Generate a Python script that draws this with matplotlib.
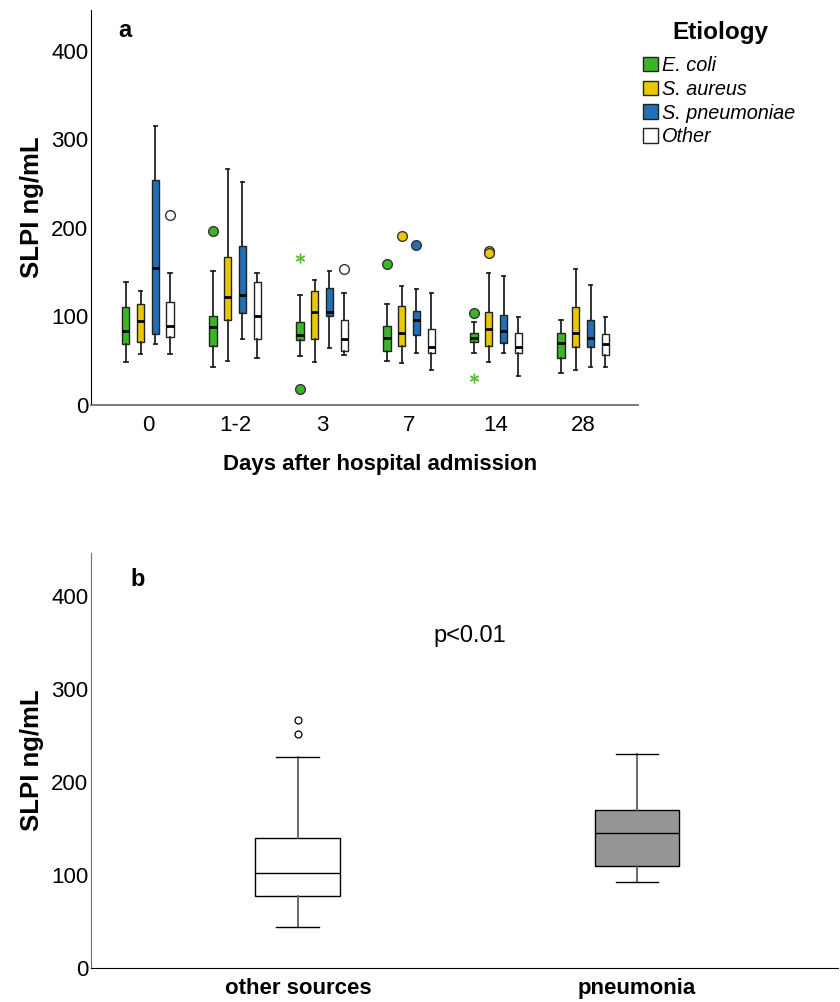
import numpy as np
import matplotlib.pyplot as plt
from matplotlib.patches import Patch

plt.rcParams['font.family'] = ['Liberation Sans', 'DejaVu Sans']

# panel a: SLPI by etiology and day
days = ["0", "1-2", "3", "7", "14", "28"]
etiologies = ["E. coli", "S. aureus", "S. pneumoniae", "Other"]
colors = ["#3bb526", "#e9c800", "#216fb4", "#ffffff"]

# (whisker low, q1, median, q3, whisker high) per day
ecoli = [(49, 69, 84, 111, 139), (43, 67, 88, 100, 151), (55, 73, 79, 94, 124),
         (50, 61, 76, 89, 114), (59, 71, 76, 81, 94), (36, 53, 70, 81, 96)]
saureus = [(58, 71, 95, 114, 129), (50, 96, 122, 167, 267), (49, 75, 105, 129, 141),
           (47, 67, 81, 112, 134), (49, 67, 86, 105, 149), (40, 66, 81, 111, 154)]
spneumo = [(69, 80, 155, 254, 315), (75, 104, 124, 179, 252), (64, 100, 105, 132, 151),
           (59, 79, 96, 106, 131), (59, 70, 84, 102, 146), (43, 66, 76, 96, 136)]
other = [(58, 77, 89, 116, 149), (53, 75, 101, 139, 149), (56, 61, 74, 96, 126),
         (40, 59, 66, 86, 126), (33, 59, 66, 81, 99), (43, 56, 69, 80, 99)]

# outliers: (etiology index, day index, value)
circle_outliers = [(0, 1, 196), (0, 2, 18), (0, 3, 159), (0, 4, 104),
                   (1, 3, 191), (1, 4, 174), (1, 4, 172),
                   (2, 3, 181),
                   (3, 0, 214), (3, 2, 154)]
star_outliers = [(0, 2, 166), (0, 4, 30)]

# panel b
groups_b = ["other sources", "pneumonia"]
stats_b = [(44, 77, 102, 140, 227), (92, 110, 145, 170, 230)]
fliers_b = [[252, 267], []]
colors_b = ["#ffffff", "#969696"]

fig = plt.figure(figsize=(8.4, 10.02), dpi=100)
ax1 = fig.add_axes([0.1083, 0.5958, 0.6512, 0.3942])
ax2 = fig.add_axes([0.1083, 0.0339, 0.8893, 0.4142])

offsets = np.array([-0.255, -0.085, 0.085, 0.255])
width = 0.085
series = [ecoli, saureus, spneumo, other]
for k, data in enumerate(series):
    stats = []
    for d, (lo, q1, med, q3, hi) in enumerate(data):
        fl = [v for (e, dd, v) in circle_outliers if e == k and dd == d]
        stats.append(dict(whislo=lo, q1=q1, med=med, q3=q3, whishi=hi, fliers=fl))
    pos = np.arange(len(days)) + offsets[k]
    ax1.bxp(stats, positions=pos, widths=width, patch_artist=True, showfliers=True,
            manage_ticks=False, capwidths=0.04,
            boxprops=dict(facecolor=colors[k], edgecolor="#222222", linewidth=1),
            medianprops=dict(color="black", linewidth=2),
            whiskerprops=dict(color="#222222", linewidth=1.3),
            capprops=dict(color="#222222", linewidth=1.3),
            flierprops=dict(marker="o", markerfacecolor=colors[k], markeredgecolor="#333333",
                            markersize=7, markeredgewidth=1))

for e, d, v in star_outliers:
    ax1.plot(d + offsets[e], v, marker=(6, 2, 0), color="#55c43c", markersize=7,
             markeredgewidth=1, linestyle="none")

ax1.set_xlim(-0.655, 5.63)
ax1.set_ylim(0, 446)
ax1.set_xticks(np.arange(len(days)))
ax1.set_xticklabels(days)
ax1.set_yticks([0, 100, 200, 300, 400])
ax1.tick_params(length=0, labelsize=16)
ax1.tick_params(axis="y", pad=2)
ax1.tick_params(axis="x", pad=7)
ax1.spines["top"].set_visible(False)
ax1.spines["right"].set_visible(False)
ax1.spines["bottom"].set_color("#707070")
ax1.spines["bottom"].set_linewidth(1.3)
ax1.set_ylabel("SLPI ng/mL", fontsize=18.5, fontweight="bold", labelpad=5)
ax1.set_xlabel("Days after hospital admission", fontsize=16, fontweight="bold", labelpad=13)
ax1.xaxis.label.set_x(0.528)
ax1.text(0.062, 0.949, "a", transform=ax1.transAxes, fontsize=17, fontweight="bold",
         ha="center", va="center")

fig.text(0.857, 0.968, "Etiology", fontsize=17.5, fontweight="bold", ha="center", va="center")
handles = [Patch(facecolor=c, edgecolor="#222222", linewidth=1) for c in colors]
leg = fig.legend(handles, etiologies, loc="upper left", bbox_to_anchor=(0.7655, 0.944),
                 frameon=False, handlelength=0.75, handleheight=0.75,
                 handletextpad=0.2, labelspacing=0.24, borderaxespad=0, borderpad=0,
                 prop=dict(size=14.3, style="italic"))

stats2 = [dict(whislo=lo, q1=q1, med=med, q3=q3, whishi=hi, fliers=fl)
          for (lo, q1, med, q3, hi), fl in zip(stats_b, fliers_b)]
bp = ax2.bxp(stats2, positions=[0, 1], widths=0.25, patch_artist=True, showfliers=True,
             capwidths=0.126,
             boxprops=dict(edgecolor="black", linewidth=1),
             medianprops=dict(color="black", linewidth=1),
             whiskerprops=dict(color="#5a6066", linewidth=1.3),
             capprops=dict(color="black", linewidth=1),
             flierprops=dict(marker="o", markerfacecolor="white", markeredgecolor="black",
                             markersize=5, markeredgewidth=0.9))
for patch, c in zip(bp["boxes"], colors_b):
    patch.set_facecolor(c)

ax2.set_xlim(-0.61, 1.593)
ax2.set_ylim(0, 446)
ax2.set_xticks([0, 1])
ax2.set_xticklabels(groups_b, fontsize=19.5, fontweight="bold")
ax2.set_yticks([0, 100, 200, 300, 400])
ax2.tick_params(length=0, labelsize=16)
ax2.tick_params(axis="y", pad=2)
ax2.tick_params(axis="x", pad=7)
ax2.spines["top"].set_visible(False)
ax2.spines["right"].set_visible(False)
ax2.spines["left"].set_color("#707070")
ax2.set_ylabel("SLPI ng/mL", fontsize=18.5, fontweight="bold", labelpad=5)
ax2.text(0.062, 0.937, "b", transform=ax2.transAxes, fontsize=17, fontweight="bold",
         ha="center", va="center")
ax2.text(0.507, 357, "p<0.01", fontsize=17, ha="center", va="center")

fig.savefig("out.png", dpi=100)
